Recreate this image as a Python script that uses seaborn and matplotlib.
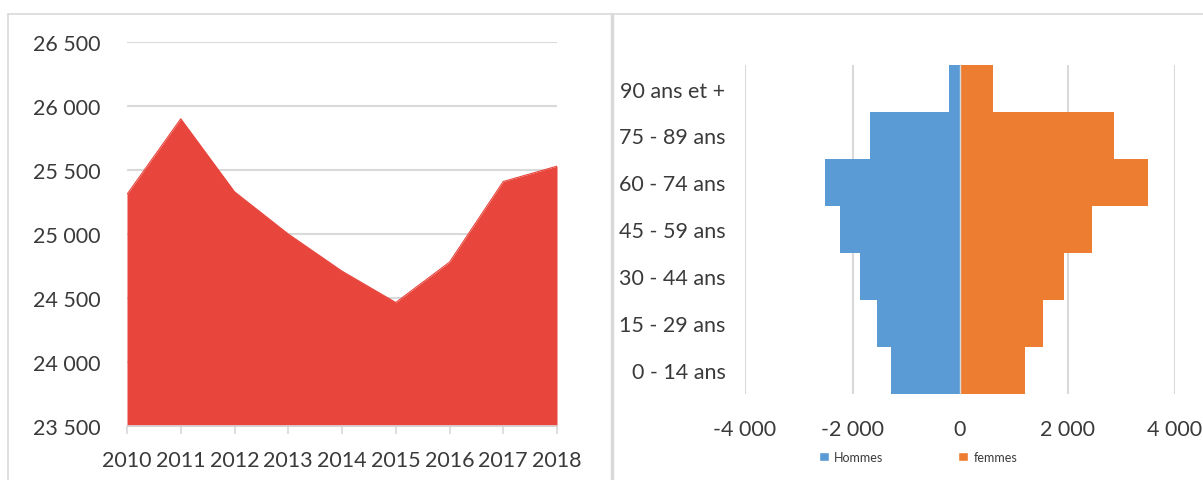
"""
Population : evolution 2010-2018 et pyramide des ages
"""
import numpy as np
import pandas as pd
import matplotlib
matplotlib.use("Agg")
import matplotlib.pyplot as plt
import seaborn as sns
from matplotlib.patches import Patch
from matplotlib.lines import Line2D
from matplotlib.ticker import FuncFormatter


# Donnees
annees = [2010, 2011, 2012, 2013, 2014, 2015, 2016, 2017, 2018]
population = [25310, 25900, 25330, 25000, 24710, 24465, 24780, 25410, 25530]

tranches = ["90 ans et +", "75 - 89 ans", "60 - 74 ans", "45 - 59 ans",
            "30 - 44 ans", "15 - 29 ans", "0 - 14 ans"]
hommes = [200, 1670, 2510, 2230, 1860, 1540, 1290]
femmes = [615, 2860, 3495, 2455, 1940, 1545, 1200]

ROUGE = "#E8453C"
BLEU = "#5B9BD5"
ORANGE = "#ED7D31"
GRILLE = "#D9D9D9"
TEXTE = "#3A3A3A"
TAILLE = 15.5


def milliers(v, pos=None):
    """Format francais : espace comme separateur de milliers."""
    return f"{v:,.0f}".replace(",", " ")


sns.set_theme(style="white")
plt.rcParams["font.family"] = ["Lato", "DejaVu Sans"]

W, H = 1203, 481
fig = plt.figure(figsize=(W / 100, H / 100), dpi=100)
ax1 = fig.add_axes([127 / W, 1 - 427 / H, 430 / W, 384 / H])
ax2 = fig.add_axes([745 / W, 1 - 395 / H, 430 / W, 329 / H])

# --- Evolution de la population (aire) ---
df_pop = pd.DataFrame({"annee": annees, "population": population})
sns.lineplot(data=df_pop, x="annee", y="population", color=ROUGE,
             lw=0.8, ax=ax1, zorder=3)
ax1.fill_between(df_pop["annee"], df_pop["population"], 23500,
                 color=ROUGE, lw=0, zorder=2)
ax1.set_xlim(2010, 2018)
ax1.set_ylim(23500, 26500)
ax1.set_yticks(np.arange(23500, 26501, 500))
ax1.set_xticks(annees)
ax1.yaxis.set_major_formatter(FuncFormatter(milliers))
ax1.yaxis.grid(True, color=GRILLE, lw=1.5, zorder=0)
ax1.set_axisbelow(True)
for s in ["left", "right", "top"]:
    ax1.spines[s].set_visible(False)
ax1.spines["bottom"].set_color(GRILLE)
ax1.tick_params(axis="x", bottom=True, direction="out", length=6,
                color=GRILLE, pad=11, labelsize=TAILLE, labelcolor=TEXTE)
ax1.tick_params(axis="y", left=False, pad=13, labelsize=TAILLE,
                labelcolor=TEXTE)
ax1.set_xlabel("")
ax1.set_ylabel("")

# --- Pyramide des ages ---
sns.barplot(x=[-h for h in hommes], y=tranches, color=BLEU, width=1,
            saturation=1, edgecolor="none", ax=ax2, zorder=2)
sns.barplot(x=femmes, y=tranches, color=ORANGE, width=1,
            saturation=1, edgecolor="none", ax=ax2, zorder=2)
ax2.set_xlim(-4000, 4000)
ax2.set_ylim(6.5, -0.5)
ax2.set_xticks(np.arange(-4000, 4001, 2000))
ax2.xaxis.set_major_formatter(FuncFormatter(milliers))
ax2.xaxis.grid(True, color=GRILLE, lw=1.5, zorder=0)
ax2.set_axisbelow(True)
ax2.axvline(0, color=GRILLE, lw=1, zorder=3)
for s in ax2.spines.values():
    s.set_visible(False)
ax2.tick_params(axis="x", bottom=False, pad=12, labelsize=TAILLE,
                labelcolor=TEXTE)
ax2.tick_params(axis="y", left=False, pad=8, labelsize=TAILLE,
                labelcolor=TEXTE)
ax2.set_xlabel("")
ax2.set_ylabel("")

poignees = [Patch(facecolor=BLEU, label="Hommes"),
            Patch(facecolor=ORANGE, label="femmes")]
fig.legend(handles=poignees, loc="center", bbox_to_anchor=(918 / W, 1 - 458 / H),
           ncol=2, frameon=False, fontsize=9, labelcolor=TEXTE,
           handlelength=0.8, handleheight=0.8, handletextpad=0.4,
           columnspacing=6.0)

# Cadres des deux panneaux
y_haut = 1 - 15 / H
fig.add_artist(Line2D([8 / W, 1], [y_haut, y_haut], color=GRILLE, lw=1.2))
fig.add_artist(Line2D([8 / W, 8 / W], [0, y_haut], color=GRILLE, lw=1.2))
fig.add_artist(Line2D([612 / W, 612 / W], [0, y_haut], color=GRILLE, lw=2.5))

fig.savefig("out.png", dpi=100)
